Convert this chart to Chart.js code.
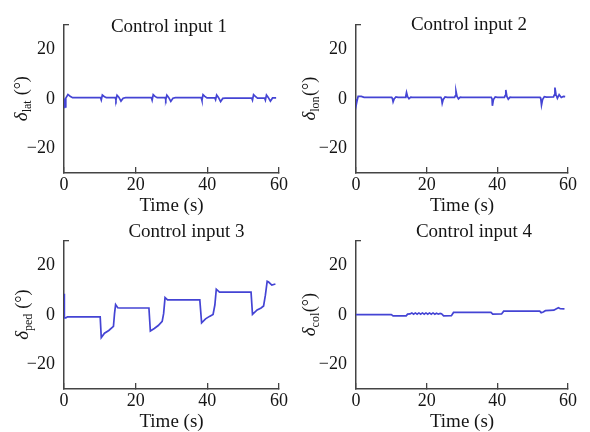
<!DOCTYPE html>
<html><head><meta charset="utf-8">
<script src="https://cdn.jsdelivr.net/npm/chart.js@4.4.0/dist/chart.umd.min.js"></script>
<style>
html,body{margin:0;padding:0;background:#fff;width:590px;height:432px;overflow:hidden;}
canvas{position:absolute;}
</style></head><body>
<canvas id="c1" width="295" height="216" style="left:0;top:0"></canvas>
<canvas id="c2" width="295" height="216" style="left:295px;top:0"></canvas>
<canvas id="c3" width="295" height="216" style="left:0;top:216px"></canvas>
<canvas id="c4" width="295" height="216" style="left:295px;top:216px"></canvas>
<script>
// ---- data ----
const xTicks = [0, 20, 40, 60];
const yTickLabels = [-20, 0, 20];

const timeLat = [0,0.08,0.2,0.3,0.5,1.1,1.7,2.4,
 10.2,10.4,10.7,11.2,11.8, 14.3,14.5,14.8,15.3,15.9,16.5,17.2,
 24.4,24.6,24.9,25.4,26.0, 28.2,28.4,28.7,29.2,29.8,30.4,31.1,
 38.3,38.5,38.8,39.3,39.9, 42.1,42.3,42.6,43.1,43.7,44.3,45.0,
 52.4,52.6,52.9,53.4,54.0, 56.0,56.2,56.5,57.0,57.6,58.2,59.2];
const valLat = [0.2,-3.8,-1.5,-3.2,0.3,1.8,1.1,0.5,
 0.5,-0.4,1.6,1.0,0.5, 0.5,-0.4,1.5,0.7,-0.9,0.3,0.5,
 0.5,-0.5,1.7,1.0,0.5, 0.5,-0.3,1.5,0.6,-1.0,0.3,0.5,
 0.5,-0.6,1.7,1.0,0.4, 0.4,-0.3,1.6,0.6,-1.1,0.2,0.3,
 0.3,-0.5,1.7,1.0,0.3, 0.3,-0.5,1.6,0.6,-0.9,0.4,0.4];

const timeLon = [0,0.1,0.3,0.6,1.5,2.3,
 10.1,10.3,10.5,10.8,11.3,11.9, 13.9,14.1,14.3,14.6,15.0,15.5,16.0,
 24.0,24.2,24.4,24.7,25.2,25.8, 27.9,28.1,28.3,28.6,29.0,29.5,30.0,
 38.3,38.5,38.6,38.9,39.4,40.0, 42.0,42.2,42.4,42.7,43.1,43.6,44.1,
 52.1,52.3,52.5,52.8,53.3,53.9, 55.9,56.1,56.3,56.6,57.0,57.5,58.1,58.7,59.2];
const valLon = [0.0,-2.2,-0.8,1.0,1.0,0.6,
 0.6,0.2,-1.2,0.0,0.8,0.6, 0.6,1.1,2.6,0.9,0.1,0.7,0.6,
 0.6,0.1,-1.8,-0.2,0.8,0.6, 0.6,1.2,3.1,1.0,0.0,0.7,0.6,
 0.6,0.0,-2.8,-0.3,0.8,0.6, 0.6,1.3,3.6,1.0,-0.1,0.7,0.6,
 0.6,0.0,-2.5,-0.3,0.9,0.7, 0.8,1.5,4.6,1.8,0.2,1.7,0.6,1.0,0.9];

const timePed = [0,0.1,0.5,1.0,10.1,10.4,11.3,12.5,13.8,14.1,14.4,15.0,15.6,
 23.7,24.1,25.2,26.3,27.4,27.8,28.2,28.9,
 37.9,38.4,39.5,40.6,41.6,42.1,42.5,43.4,
 52.2,52.6,53.9,55.0,55.7,56.2,56.7,57.1,58.0,59.0];
const valPed = [8.6,-1.2,-1.2,-0.8,-0.8,-9.2,-7.4,-6.3,-4.6,0.5,4.2,2.9,2.8,
 2.8,-6.5,-5.5,-4.3,-2.6,0.5,7.0,6.1,
 6.1,-3.2,-1.6,-0.6,0.2,4.0,10.4,9.2,
 9.2,0.2,2.0,2.8,3.6,8.0,13.6,13.3,12.1,12.5];

const timeCol = [0,10.0,10.5,14.2,14.6,15.3,15.8,16.3,16.8,17.3,17.8,18.3,18.8,19.3,19.8,
 20.3,20.8,21.3,21.8,22.3,22.8,23.3,23.8,24.2,24.8,27.0,27.6,38.2,38.7,41.2,41.8,
 52.0,52.4,53.0,53.6,56.0,56.6,57.3,57.8,59.0];
const valCol = [0.1,0.1,-0.4,-0.4,0.3,0.4,0.8,0.3,0.8,0.3,0.8,0.3,0.8,0.3,0.8,
 0.3,0.8,0.3,0.8,0.3,0.7,0.3,0.6,0.5,-0.4,-0.3,1.0,1.0,0.3,0.4,1.5,
 1.5,0.9,1.2,1.7,1.9,2.4,2.9,2.5,2.4];

// ---- drawing ----
const LINE = 'rgb(68,68,212)';
const AXIS = '#444';
const TXT = '#151515';
const SERIF = '"Liberation Serif", "Times New Roman", serif';

const annot = {
  id: 'annot',
  afterDraw(chart, args, o) {
    const {ctx, chartArea} = chart;
    ctx.save();
    ctx.fillStyle = TXT;
    ctx.font = '19px ' + SERIF;
    ctx.textAlign = 'center';
    ctx.textBaseline = 'alphabetic';
    ctx.fillText(o.title, (chartArea.left + chartArea.right) / 2 + o.titleDx, chartArea.top + o.titleDy);
    const cx = chartArea.left + o.labelDx;
    const cy = (chartArea.top + chartArea.bottom) / 2;
    ctx.translate(cx, cy);
    ctx.rotate(-Math.PI / 2);
    const f1 = 'italic 19px ' + SERIF, f2 = '12px ' + SERIF, f3 = '18px ' + SERIF;
    ctx.font = f1; const w1 = ctx.measureText('\u03B4').width;
    ctx.font = f2; const w2 = ctx.measureText(o.sub).width;
    ctx.font = f3; const w3 = ctx.measureText(o.unit).width;
    let x = -(w1 + w2 + w3) / 2;
    ctx.textAlign = 'left';
    ctx.font = f1; ctx.fillText('\u03B4', x, 0); x += w1;
    ctx.font = f2; ctx.fillText(o.sub, x, 4); x += w2 + 0.5;
    ctx.font = f3; ctx.fillText(o.unit, x, 0);
    ctx.restore();
  }
};

function makeChart(id, times, vals, cfg) {
  const pts = times.map((t, i) => ({x: t, y: vals[i]}));
  return new Chart(document.getElementById(id), {
    type: 'line',
    data: {datasets: [{data: pts, borderColor: LINE, borderWidth: 1.7, pointRadius: 0, tension: 0, fill: false}]},
    plugins: [annot],
    options: {
      responsive: false,
      animation: false,
      events: [],
      layout: {padding: {left: 0, top: cfg.top, right: cfg.right, bottom: 0}},
      plugins: {
        legend: {display: false}, tooltip: {enabled: false},
        annot: {title: cfg.title, titleDx: cfg.titleDx, titleDy: cfg.titleDy, labelDx: cfg.labelDx, sub: cfg.sub, unit: cfg.unit}
      },
      scales: {
        x: {
          type: 'linear', min: 0, max: 60,
          afterFit: s => { s.height = 43; },
          afterBuildTicks: s => { s.ticks = xTicks.map(v => ({value: v})); },
          ticks: {color: TXT, font: {family: SERIF, size: 18}, padding: 7, maxRotation: 0, autoSkip: false},
          grid: {display: true, drawOnChartArea: false, drawTicks: true, tickLength: -6, color: AXIS, lineWidth: 1.3},
          border: {display: true, color: AXIS, width: 1.5},
          title: {display: true, text: 'Time (s)', color: TXT, font: {family: SERIF, size: 19}, padding: {top: 0, bottom: -1}}
        },
        y: {
          type: 'linear', min: -30, max: 30,
          afterFit: s => { s.width = cfg.left; },
          ticks: {stepSize: 10, color: TXT, font: {family: SERIF, size: 18}, padding: 14,
            callback: v => yTickLabels.includes(v) ? (v < 0 ? '\u2212' + Math.abs(v) : String(v)) : ''},
          grid: {display: true, drawOnChartArea: false, drawTicks: true, tickLength: -5, lineWidth: 1.3,
            color: c => (c.tick && c.tick.value === 30) ? AXIS : 'rgba(0,0,0,0)'},
          border: {display: true, color: AXIS, width: 1.5}
        }
      }
    }
  });
}

makeChart('c1', timeLat, valLat, {title: 'Control input 1', sub: 'lat', unit: ' (\u00B0)', left: 64, right: 13, top: 21, titleDx: -2.5, titleDy: 7, labelDx: -37});
makeChart('c2', timeLon, valLon, {title: 'Control input 2', sub: 'lon', unit: '(\u00B0)', left: 61, right: 22, top: 21, titleDx: 7, titleDy: 5.5, labelDx: -41});
makeChart('c3', timePed, valPed, {title: 'Control input 3', sub: 'ped', unit: ' (\u00B0)', left: 64, right: 13, top: 23, titleDx: 15, titleDy: -3.7, labelDx: -36});
makeChart('c4', timeCol, valCol, {title: 'Control input 4', sub: 'col', unit: '(\u00B0)', left: 61, right: 22, top: 23, titleDx: 12, titleDy: -4.2, labelDx: -41});
</script>
</body></html>
